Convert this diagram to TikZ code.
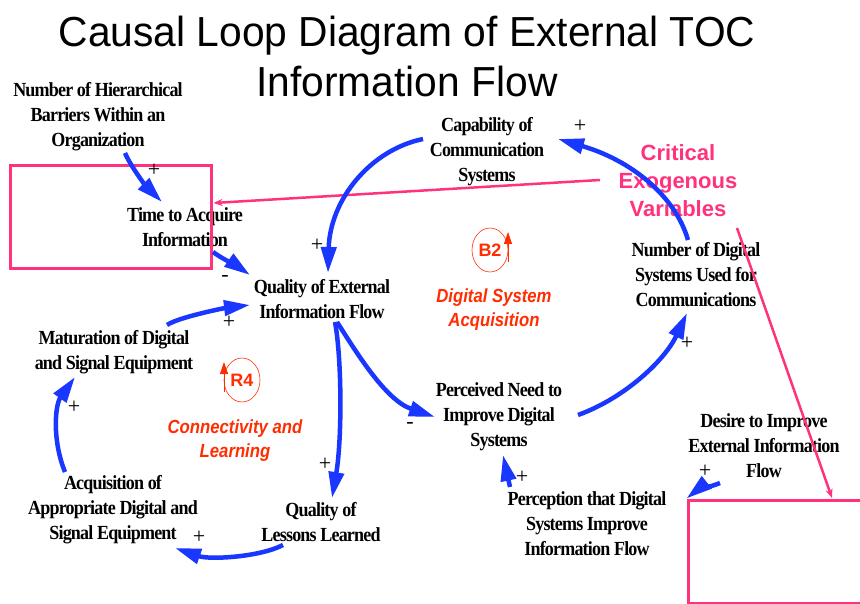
\documentclass[tikz,border=0pt]{standalone}
\usepackage{fontspec}
\setmainfont{Liberation Serif}
\newfontfamily\nodefont{Liberation Serif}[FakeStretch=0.9,LetterSpace=-4]
\newfontfamily\titlefont{Liberation Sans}[FakeStretch=0.97]
\newfontfamily\labfont{Liberation Sans}[FakeStretch=0.88]
\newfontfamily\critfont{Liberation Sans}
\usetikzlibrary{arrows.meta,shapes.geometric}
\definecolor{cblue}{RGB}{25,55,255}
\definecolor{cpink}{RGB}{255,50,125}
\definecolor{cred}{RGB}{255,45,0}
\begin{document}
\begin{tikzpicture}[x=1pt,y=-1pt,
  var/.style={font=\nodefont\bfseries\fontsize{20}{25}\selectfont, align=center, inner sep=0pt},
  link/.style={draw=cblue, line width=4.5pt, -{Triangle[length=26pt,width=15pt]}},
  pol/.style={font=\fontsize{22}{22}\selectfont, inner sep=0pt},
  pinkbox/.style={draw=cpink, line width=3pt, inner sep=0pt},
  pinkline/.style={draw=cpink, line width=2.5pt, -{Stealth[length=9pt,width=7pt]}},
  loopname/.style={font=\labfont\bfseries\itshape\fontsize{19}{24}\selectfont, text=cred, align=center, inner sep=0pt},
  loopsym/.style={draw=cred, line width=0.6pt, ellipse, minimum width=36pt, minimum height=44pt, inner sep=0pt, text=cred, font=\critfont\bfseries\fontsize{18}{18}\selectfont},
  looparrow/.style={draw=cred, line width=0.8pt, -{Triangle[length=12pt,width=8pt]}}
]
\fill[white] (0,0) rectangle (860,604);
\useasboundingbox (0,0) rectangle (860,604);

% title
\node[font=\titlefont\fontsize{42}{50}\selectfont, align=center, inner sep=0pt] (title) at (407,56)
  {Causal Loop Diagram of External TOC\\Information Flow};

% variables
\node[var] (NHB) at (98,117) {Number of Hierarchical\\Barriers Within an\\Organization};
\node[var] (TAI) at (185,227) {Time to Acquire\\Information};
\node[var] (QEI) at (322,299) {Quality of External\\Information Flow};
\node[var] (MDS) at (114,352) {Maturation of Digital\\and Signal Equipment};
\node[var] (AAD) at (113,510) {Acquisition of\\Appropriate Digital and\\Signal Equipment};
\node[var] (QLL) at (321,522) {Quality of\\Lessons Learned};
\node[var] (CCS) at (487,152) {Capability of\\Communication\\Systems};
\node[var] (NDS) at (696,275) {Number of Digital\\Systems Used for\\Communications};
\node[var] (PND) at (499,417) {Perceived Need to\\Improve Digital\\Systems};
\node[var] (DIE) at (764,446) {Desire to Improve\\External Information\\Flow};
\node[var] (PDS) at (587,524) {Perception that Digital\\Systems Improve\\Information Flow};

% critical exogenous variables
\node[font=\critfont\bfseries\fontsize{22}{28}\selectfont, text=cpink, align=center, inner sep=0pt] (CEV) at (678,181)
  {Critical\\Exogenous\\Variables};
\node[pinkbox, minimum width=201pt, minimum height=103pt] (box1) at (110.5,217.5) {};
\node[pinkbox, minimum width=174pt, minimum height=103pt] (box2) at (775,551.5) {};
\draw[pinkline] ([shift={(-78,-1)}]CEV.center) -- ([shift={(1,-14.5)}]box1.east);
\draw[pinkline] ([shift={(59,47)}]CEV.center) -- ([shift={(57,-53.5)}]box2.center);

% loops
\node[loopsym] (B2) at (490,250) {B2};
\draw[looparrow] ([shift={(18,12)}]B2.center) -- ([shift={(18,-18)}]B2.center);
\node[loopname] (B2n) at (494,310) {Digital System\\Acquisition};
\node[loopsym] (R4) at (242,380) {R4};
\draw[looparrow] ([shift={(-18,12)}]R4.center) -- ([shift={(-18,-18)}]R4.center);
\node[loopname] (R4n) at (235,441) {Connectivity and\\Learning};

% causal links
\draw[link] ([shift={(27,36)}]NHB.center) .. controls +(5,12) and +(-17,-17) .. ([shift={(-23,-25)}]TAI.center);
\draw[link] ([shift={(28,25)}]TAI.center) .. controls +(8,6) and +(-10,-7) .. ([shift={(-72,-24)}]QEI.center);
\draw[link] ([shift={(-64,-13)}]CCS.center) .. controls +(-53,11) and +(2,-73) .. ([shift={(6,-26)}]QEI.center);
\draw[link] ([shift={(53,-27)}]MDS.center) .. controls +(12,-8) and +(-25,3) .. ([shift={(-72,6)}]QEI.center);
\draw[link] ([shift={(13,23)}]QEI.center) .. controls +(7,38) and +(10,-58) .. ([shift={(11,-24)}]QLL.center);
\draw[link] ([shift={(15,23)}]QEI.center) .. controls +(18,28) and +(-50,-17) .. ([shift={(-64,0)}]PND.center);
\draw[link] ([shift={(79,-2)}]PND.center) .. controls +(47,-17) and +(-22,47) .. ([shift={(-9,38)}]NDS.center);
\draw[link] ([shift={(-8,-35)}]NDS.center) .. controls +(-13,-45) and +(72,21) .. ([shift={(71,-13)}]CCS.center);
\draw[link] ([shift={(-38,23)}]QLL.center) .. controls +(-23,12) and +(35,12) .. ([shift={(62,38)}]AAD.center);
\draw[link] ([shift={(-48,-38)}]AAD.center) .. controls +(-13,-32) and +(-20,28) .. ([shift={(-39,25)}]MDS.center);
\draw[link] ([shift={(-77,-37)}]PDS.center) -- ([shift={(4,38)}]PND.center);
\draw[link] ([shift={(-44,37)}]DIE.center) .. controls +(-10,4) and +(10,-8) .. (box2.north west);

% polarities
\node[pol] (p1) at (154,170) {+};
\node[pol] (p2) at (225,278) {-};
\node[pol] (p3) at (317,245) {+};
\node[pol] (p4) at (229,322) {+};
\node[pol] (p5) at (580,126) {+};
\node[pol] (p6) at (687,343) {+};
\node[pol] (p7) at (410,425) {-};
\node[pol] (p8) at (522,477) {+};
\node[pol] (p9) at (705,471) {+};
\node[pol] (p10) at (74,407) {+};
\node[pol] (p11) at (325,464) {+};
\node[pol] (p12) at (199,537) {+};
\end{tikzpicture}
\end{document}
